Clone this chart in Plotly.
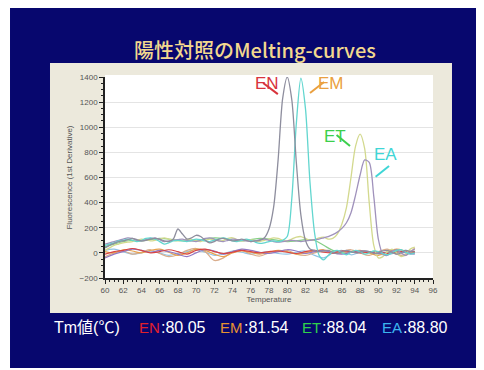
import plotly.graph_objects as go

# ---------------- data ----------------
TEMP_FINE = [60 + 0.5 * i for i in range(69)]   # 60.0 ... 94.0
TEMP_COARSE = [60 + i for i in range(35)]       # 60 ... 94

EN_VALUES = [40, 60, 75, 90, 95, 105, 115, 105, 95, 100,
             110, 115, 110, 95, 90, 110, 190, 150, 110, 120,
             140, 130, 100, 80, 90, 110, 115, 105, 95, 100,
             110, 100, 90, 95, 100, 120, 190, 360, 740, 1230,
             1400, 1220, 720, 300, 100, 30, 20, 10, 15, 20,
             5, -5, 10, 20, 10, 0, 5, 15, 10, -5,
             0, 15, 20, 5, -10, 0, 20, 10, 5]
EM_VALUES = [60, 70, 80, 95, 100, 110, 100, 90, 100, 115,
             120, 110, 90, 70, 80, 95, 100, 95, 90, 100,
             110, 105, 95, 90, 100, 110, 120, 110, 95, 90,
             100, 110, 100, 85, 75, 80, 90, 95, 90, 100,
             130, 430, 1030, 1390, 1150, 560, 160, -20, -55, -20,
             10, 20, 0, -15, 5, 20, 10, -10, 0, 15,
             10, -5, -15, 0, 20, 25, 5, -10, 0]
ET_VALUES = [20, 40, 60, 70, 80, 85, 90, 100, 110, 105,
             95, 100, 110, 120, 110, 100, 95, 100, 110, 105,
             95, 90, 100, 110, 105, 95, 100, 115, 120, 105,
             95, 100, 105, 95, 90, 100, 110, 120, 115, 100,
             95, 110, 125, 130, 115, 100, 105, 120, 125, 110,
             115, 150, 230, 360, 600, 850, 945, 830, 400, 60,
             -40, -30, 10, 30, 0, -30, -10, 30, 45]
EA_VALUES = [70, 80, 90, 100, 110, 120, 115, 100, 95, 105,
             115, 120, 105, 90, 95, 100, 105, 110, 100, 95,
             90, 100, 115, 120, 110, 95, 90, 100, 110, 105,
             100, 95, 90, 95, 105, 110, 100, 90, 85, 90,
             95, 100, 95, 90, 95, 100, 105, 110, 120, 130,
             145, 165, 195, 240, 320, 460, 620, 740, 720, 450,
             110, -10, -20, 10, 25, 0, -20, 10, 30]

RED_VALUES = [-10, 10, 20, 35, 20, 0, 10, 25, 10, -10,
              20, 30, 10, -5, 5, 20, 10, 0, 10, 15,
              5, -5, 10, 20, 5, 0, 15, 10, 0, 5,
              10, -5, 5, 15, 10]
ORANGE_VALUES = [10, 0, 25, 15, 0, 20, 30, 5, -20, 0,
                 30, 20, -10, -30, 0, 15, 5, -10, 5, 20,
                 10, -10, 0, 15, 25, 5, -5, 10, 20, 0,
                 -20, 10, 30, 15, 0]
TAN_VALUES = [-30, 0, 15, -10, 5, 25, -5, -30, -15, 20,
              35, 10, -60, -40, 10, 20, -10, -25, 0, 15,
              20, -10, -20, 0, 15, -5, 10, 25, 0, -20,
              10, 30, -10, -20, 40]
PURPLE_VALUES = [-40, -10, 10, 30, 20, 5, 20, 10, -10, -30,
                 0, 25, 15, -10, 10, 30, 20, 5, -5, 10,
                 25, 15, -5, 10, 20, 0, -10, 5, 15, 10,
                 -5, 5, 20, 0, -10]
BLUE_VALUES = [20, 30, 10, -10, 0, 15, 0, -20, -5, 10,
               25, 5, -20, -10, 15, 5, -10, 0, 10, -5,
               -10, 5, 15, -20, -40, 0, 20, -15, 5, 10,
               -10, -15, 5, 20, 0]
GREEN_VALUES = [50, 70, 90, 100, 95, 105, 115, 110, 100, 95,
                100, 110, 120, 115, 100, 95, 105, 115, 110, 100,
                90, 95, 105, 100, 60, 20, 0, 10, 15, 5,
                -5, 0, 10, 5, 15]

Y_TICKS = [-200, 0, 200, 400, 600, 800, 1000, 1200, 1400]
X_TICKS = list(range(60, 97, 2))

TM_LABEL = "Tm値(℃)"
TM_NAMES = ["EN", "EM", "ET", "EA"]
TM_VALUES = ["80.05", "81.54", "88.04", "88.80"]

# ---------------- figure ----------------
fig = go.Figure()

baseline = [
    (GREEN_VALUES, "#86cf86"),
    (BLUE_VALUES, "#92c4e6"),
    (TAN_VALUES, "#d9ad8c"),
    (ORANGE_VALUES, "#e9a24e"),
    (PURPLE_VALUES, "#9278c2"),
    (RED_VALUES, "#d84444"),
]
for vals, col in baseline:
    fig.add_trace(go.Scatter(x=TEMP_COARSE, y=vals, mode="lines",
                             line=dict(color=col, width=1.2, shape="spline"),
                             hoverinfo="skip", showlegend=False))

peaks = [
    (ET_VALUES, "#d3d98e"),
    (EA_VALUES, "#a092bc"),
    (EM_VALUES, "#62d6cf"),
    (EN_VALUES, "#8e8e9e"),
]
for vals, col in peaks:
    fig.add_trace(go.Scatter(x=TEMP_FINE, y=vals, mode="lines",
                             line=dict(color=col, width=1.3, shape="spline", smoothing=0.8),
                             hoverinfo="skip", showlegend=False))

NAVY = "#07076e"
shapes = [
    dict(type="rect", xref="paper", yref="paper", x0=-0.2896, x1=1.1433, y0=-0.4478, y1=1.3582,
         fillcolor=NAVY, line=dict(width=0), layer="below"),
    dict(type="rect", xref="paper", yref="paper", x0=-0.1677, x1=1.0579, y0=-0.1741, y1=1.0697,
         fillcolor="#ece9dc", line=dict(width=0), layer="below"),
    dict(type="rect", xref="paper", yref="paper", x0=0, x1=1, y0=0, y1=1.01,
         fillcolor="white", line=dict(width=0), layer="below"),
]
arrows = [
    (0.482, 0.970, 0.527, 0.915, "#d8343c"),
    (0.668, 0.975, 0.625, 0.920, "#eaa040"),
    (0.706, 0.711, 0.747, 0.657, "#3ccf4c"),
    (0.866, 0.557, 0.825, 0.504, "#3fd6d6"),
]
for x0, y0, x1, y1, col in arrows:
    shapes.append(dict(type="line", xref="paper", yref="paper", x0=x0, y0=y0, x1=x1, y1=y1,
                       line=dict(color=col, width=2)))

LATIN = "Liberation Sans, Arial, sans-serif"
annotations = [
    dict(text="陽性対照のMelting-curves", x=0.457, y=1.219, xref="paper", yref="paper",
         showarrow=False, font=dict(size=20, color="#f2d88e",
                                    family="Noto Sans CJK JP, Liberation Sans, sans-serif",
                                    weight=500)),
    dict(text="EN", x=0.494, y=1.025, xref="paper", yref="paper", showarrow=False,
         font=dict(size=17, color="#d8343c", family=LATIN)),
    dict(text="EM", x=0.735, y=1.025, xref="paper", yref="paper", showarrow=False,
         font=dict(size=17, color="#eaa040", family=LATIN)),
    dict(text="ET", x=0.742, y=0.761, xref="paper", yref="paper", showarrow=False,
         font=dict(size=17, color="#3ccf4c", family=LATIN)),
    dict(text="EA", x=0.895, y=0.612, xref="paper", yref="paper", showarrow=False,
         font=dict(size=17, color="#3fd6d6", family=LATIN)),
]

tm_colors = ["#e0202c", "#e69232", "#2fd04c", "#3cb4ee"]
tm_left = [0.0976, 0.3445, 0.5945, 0.8384]
tm_name_w = [0.067, 0.073, 0.062, 0.065]
BOTTOM_Y = -0.2985
annotations.append(dict(text=TM_LABEL, x=-0.1616, y=BOTTOM_Y, xref="paper", yref="paper",
                        xanchor="left", showarrow=False,
                        font=dict(size=16, color="white",
                                  family="Liberation Sans, Noto Sans CJK JP, sans-serif")))
for name, val, col, xl, w in zip(TM_NAMES, TM_VALUES, tm_colors, tm_left, tm_name_w):
    annotations.append(dict(text=name, x=xl, y=BOTTOM_Y, xref="paper", yref="paper",
                            xanchor="left", showarrow=False,
                            font=dict(size=15, color=col, family=LATIN)))
    annotations.append(dict(text=":" + val, x=xl + w, y=BOTTOM_Y, xref="paper", yref="paper",
                            xanchor="left", showarrow=False,
                            font=dict(size=16, color="white", family=LATIN)))

fig.update_layout(
    width=476, height=362,
    margin=dict(l=97, r=51, t=69, b=92),
    paper_bgcolor="white",
    plot_bgcolor="rgba(0,0,0,0)",
    shapes=shapes,
    annotations=annotations,
    font=dict(family=LATIN, color="#555555"),
)
fig.update_xaxes(range=[60, 96], tickvals=X_TICKS, showgrid=False,
                 showline=True, linecolor="#222222", linewidth=1.5,
                 ticks="outside", ticklen=4, tickcolor="#222222",
                 minor=dict(dtick=0.5, ticks="outside", ticklen=2, tickcolor="#222222"),
                 tickfont=dict(size=8, color="#555555"),
                 title=dict(text="Temperature", font=dict(size=8, color="#555555"), standoff=1),
                 zeroline=False)
fig.update_yaxes(range=[-200, 1400], tickvals=Y_TICKS, showgrid=True, gridcolor="#e4e4e4",
                 showline=True, linecolor="#222222", linewidth=1.5,
                 ticks="outside", ticklen=4, tickcolor="#222222",
                 minor=dict(dtick=50, ticks="outside", ticklen=2, tickcolor="#222222", showgrid=False),
                 tickfont=dict(size=8, color="#555555"),
                 title=dict(text="Fluorescence (1st Derivative)", font=dict(size=8, color="#555555"),
                            standoff=6),
                 zeroline=False)

fig.write_html("out.html")
